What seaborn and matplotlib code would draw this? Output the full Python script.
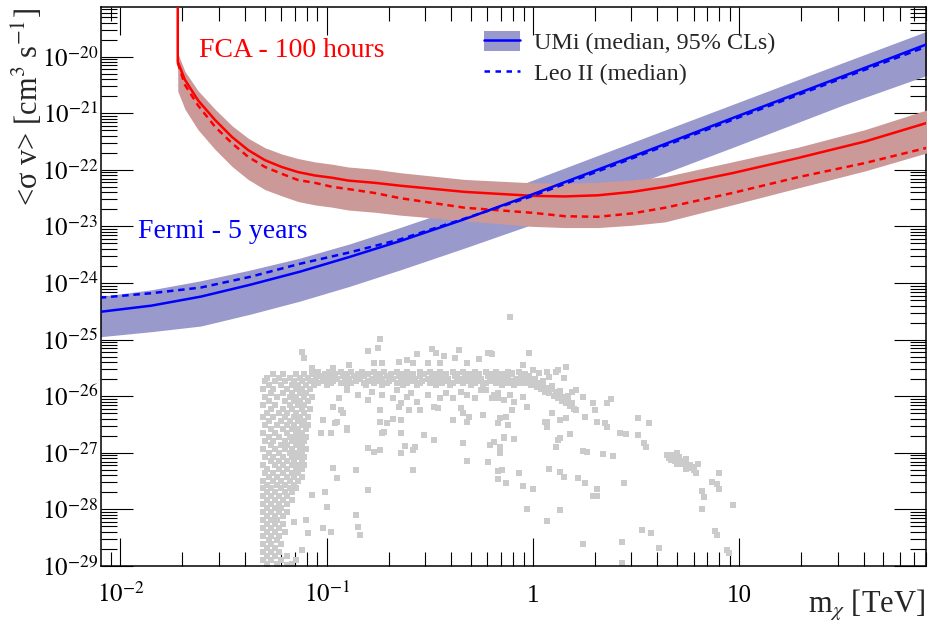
import numpy as np
import pandas as pd
import matplotlib
matplotlib.use("Agg")
import matplotlib.pyplot as plt
import seaborn as sns
from matplotlib.patches import Patch
from matplotlib.lines import Line2D
from matplotlib.legend_handler import HandlerTuple
from matplotlib.ticker import LogLocator, NullFormatter

# ------------------------------------------------------------------ data
# all values are log10(m_chi / TeV) and log10(<sigma v> / cm^3 s^-1)

# Fermi 5 years (UMi median + 95% CL band, Leo II median)
fermi_logm = [-2.10, -1.85, -1.61, -1.37, -1.13, -0.89, -0.645, -0.33, 0.0, 0.5, 1.0, 1.5, 1.91]
umi_fermi_median = [-24.51, -24.40, -24.24, -24.03, -23.80, -23.54, -23.26, -22.87, -22.43,
                    -21.74, -21.04, -20.35, -19.78]
umi_fermi_upper = [-24.24, -24.12, -23.96, -23.77, -23.56, -23.31, -23.02, -22.63, -22.18,
                   -21.49, -20.80, -20.11, -19.55]
umi_fermi_lower = [-24.95, -24.86, -24.76, -24.55, -24.32, -24.06, -23.77, -23.38, -22.96,
                   -22.25, -21.56, -20.86, -20.33]
leo_fermi_median = [-24.26, -24.18, -24.08, -23.89, -23.66, -23.46, -23.23, -22.86, -22.46,
                    -21.77, -21.07, -20.38, -19.82]

# FCA 100 hours (UMi median + 95% CL band, Leo II median)
fca_threshold_logm = -1.722
fca_rise_logsv = -18.5
fca_logm = [-1.722, -1.687, -1.624, -1.541, -1.459, -1.381, -1.299, -1.218, -1.139, -1.057,
            -0.974, -0.895, -0.766, -0.645, -0.33, 0.0, 0.155, 0.315, 0.48, 0.64, 0.965, 1.285,
            1.609, 1.91]
umi_fca_median = [-20.09, -20.41, -20.77, -21.12, -21.42, -21.65, -21.83, -21.95, -22.04, -22.10,
                  -22.14, -22.19, -22.23, -22.28, -22.39, -22.46, -22.47, -22.45, -22.39, -22.30,
                  -22.06, -21.79, -21.50, -21.17]
umi_fca_upper = [-19.94, -20.26, -20.60, -20.93, -21.22, -21.44, -21.61, -21.72, -21.80, -21.86,
                 -21.90, -21.95, -21.99, -22.05, -22.17, -22.23, -22.24, -22.22, -22.18, -22.12,
                 -21.86, -21.60, -21.29, -20.94]
umi_fca_lower = [-20.61, -20.93, -21.29, -21.64, -21.94, -22.17, -22.35, -22.46, -22.56, -22.62,
                 -22.66, -22.71, -22.75, -22.80, -22.90, -23.00, -23.02, -23.02, -22.98, -22.92,
                 -22.62, -22.32, -22.02, -21.70]
leo_fca_median = [-20.11, -20.50, -20.86, -21.24, -21.53, -21.77, -21.95, -22.07, -22.18, -22.23,
                  -22.30, -22.34, -22.41, -22.50, -22.67, -22.76, -22.82, -22.83, -22.77, -22.67,
                  -22.41, -22.13, -21.88, -21.61]

# model scan: vertical branch near 50-80 GeV, rows of (log sv, [log m ...])
scan_branch_rows = [
    (-25.60, [-1.26, -1.21, -1.15, -1.11, -1.07]),
    (-25.67, [-1.29, -1.23, -1.18, -1.13, -1.09, -1.05]),
    (-25.74, [-1.30, -1.25, -1.20, -1.16, -1.12, -1.08]),
    (-25.81, [-1.28, -1.22, -1.17, -1.14, -1.10, -1.06]),
    (-25.88, [-1.31, -1.26, -1.19, -1.15, -1.12, -1.08]),
    (-25.95, [-1.27, -1.21, -1.17, -1.13, -1.10]),
    (-26.02, [-1.30, -1.24, -1.18, -1.15, -1.11, -1.07]),
    (-26.09, [-1.28, -1.20, -1.16, -1.13, -1.09]),
    (-26.16, [-1.31, -1.25, -1.18, -1.14, -1.11]),
    (-26.23, [-1.27, -1.21, -1.17, -1.12, -1.08]),
    (-26.30, [-1.29, -1.23, -1.19, -1.15, -1.11]),
    (-26.37, [-1.31, -1.26, -1.20, -1.16, -1.13, -1.09]),
    (-26.44, [-1.28, -1.22, -1.18, -1.14, -1.11]),
    (-26.51, [-1.30, -1.24, -1.19, -1.16, -1.12, -1.09]),
    (-26.58, [-1.27, -1.21, -1.17, -1.14, -1.10]),
    (-26.65, [-1.31, -1.25, -1.19, -1.15, -1.12]),
    (-26.72, [-1.28, -1.23, -1.18, -1.16, -1.13, -1.10]),
    (-26.79, [-1.30, -1.26, -1.20, -1.17, -1.14, -1.11]),
    (-26.86, [-1.27, -1.22, -1.19, -1.15, -1.12]),
    (-26.93, [-1.31, -1.25, -1.20, -1.17, -1.13, -1.10]),
    (-27.00, [-1.28, -1.23, -1.18, -1.15, -1.12]),
    (-27.07, [-1.30, -1.26, -1.21, -1.17, -1.14, -1.11]),
    (-27.14, [-1.27, -1.23, -1.19, -1.16, -1.12]),
    (-27.21, [-1.31, -1.25, -1.21, -1.17, -1.14, -1.11]),
    (-27.28, [-1.29, -1.23, -1.19, -1.15, -1.12]),
    (-27.35, [-1.30, -1.26, -1.21, -1.17, -1.14]),
    (-27.42, [-1.28, -1.24, -1.19, -1.16, -1.12]),
    (-27.49, [-1.31, -1.26, -1.22, -1.18, -1.14]),
    (-27.56, [-1.29, -1.24, -1.20, -1.16]),
    (-27.63, [-1.31, -1.27, -1.22, -1.18, -1.15]),
    (-27.70, [-1.29, -1.25, -1.20, -1.17]),
    (-27.77, [-1.31, -1.27, -1.23, -1.19]),
    (-27.84, [-1.29, -1.25, -1.21, -1.17]),
    (-27.91, [-1.31, -1.27, -1.23, -1.19]),
    (-27.98, [-1.29, -1.25, -1.22]),
    (-28.05, [-1.31, -1.27, -1.23, -1.19]),
    (-28.12, [-1.29, -1.25, -1.21]),
    (-28.19, [-1.31, -1.27, -1.24]),
    (-28.26, [-1.29, -1.25, -1.21]),
    (-28.33, [-1.31, -1.27, -1.23]),
    (-28.40, [-1.29, -1.25, -1.20]),
    (-28.47, [-1.31, -1.27, -1.23]),
    (-28.54, [-1.28, -1.24]),
    (-28.61, [-1.31, -1.27, -1.22]),
    (-28.68, [-1.29, -1.25]),
    (-28.75, [-1.31, -1.27, -1.23]),
    (-28.82, [-1.29, -1.25, -1.19]),
    (-28.89, [-1.31, -1.27, -1.22]),
    (-28.96, [-1.29, -1.24, -1.17]),
]

# model scan: plateau at ~2e-26 (thermal relic), rows of (log sv, [log m ...])
scan_plateau_rows = [
    (-25.57, [-1.04, -0.99, -0.93, -0.88, -0.83, -0.77, -0.72, -0.66, -0.61, -0.55, -0.50, -0.45,
              -0.39, -0.34, -0.28, -0.23, -0.18, -0.12, -0.07]),
    (-25.61, [-1.06, -1.01, -0.96, -0.90, -0.85, -0.80, -0.74, -0.69, -0.63, -0.58, -0.53, -0.47,
              -0.42, -0.37, -0.31, -0.26, -0.20, -0.15, -0.10, -0.04]),
    (-25.65, [-1.03, -0.98, -0.92, -0.87, -0.82, -0.76, -0.71, -0.65, -0.60, -0.55, -0.49, -0.44,
              -0.38, -0.33, -0.28, -0.22, -0.17, -0.12, -0.06, -0.02]),
    (-25.69, [-1.05, -1.00, -0.95, -0.89, -0.84, -0.78, -0.73, -0.68, -0.62, -0.57, -0.51, -0.46,
              -0.41, -0.35, -0.30, -0.25, -0.19, -0.14, -0.08, -0.03, 0.01]),
    (-25.73, [-1.02, -0.97, -0.91, -0.86, -0.80, -0.75, -0.70, -0.64, -0.59, -0.54, -0.48, -0.43,
              -0.37, -0.32, -0.27, -0.21, -0.16, -0.11, -0.05, 0.00]),
    (-25.77, [-1.04, -0.98, -0.93, -0.88, -0.82, -0.77, -0.71, -0.66, -0.61, -0.55, -0.50, -0.44,
              -0.39, -0.34, -0.28, -0.23, -0.18, -0.12, -0.07, -0.02]),
    (-25.81, [-1.00, -0.90, -0.81, -0.73, -0.63, -0.56, -0.47, -0.40, -0.30, -0.24, -0.15, -0.09]),
]

# model scan: descending streak around 1-1.5 TeV, (log m, log sv)
scan_streak = [
    (-0.06, -25.70), (-0.04, -25.76), (-0.03, -25.68), (-0.01, -25.80), (0.00, -25.73),
    (0.02, -25.84), (0.03, -25.77), (0.04, -25.88), (0.05, -25.80), (0.06, -25.92),
    (0.07, -25.85), (0.08, -25.95), (0.09, -25.88), (0.10, -26.00), (0.11, -25.93),
    (0.12, -26.04), (0.13, -25.97), (0.14, -26.08), (0.15, -26.02), (0.16, -26.12),
    (0.17, -26.06), (0.18, -26.17), (0.19, -26.12), (0.20, -26.22), (0.21, -26.25),
    (0.01, -25.70), (0.05, -25.74), (0.09, -25.82), (0.13, -25.91), (0.17, -26.00),
]

# model scan: compact cluster near 5 TeV, (log m, log sv)
scan_cluster = [
    (0.65, -27.04), (0.66, -27.09), (0.67, -27.06), (0.68, -27.11), (0.69, -27.08),
    (0.69, -27.15), (0.70, -27.12), (0.71, -27.17), (0.72, -27.14), (0.72, -27.20),
    (0.73, -27.18), (0.74, -27.23), (0.75, -27.21), (0.76, -27.27), (0.77, -27.25),
    (0.78, -27.31), (0.79, -27.35), (0.67, -27.13), (0.70, -27.20), (0.74, -27.28),
    (0.76, -27.22), (0.68, -27.03), (0.71, -27.08),
]

# model scan: scattered points, (log m, log sv)
scan_sparse = [
    (-1.12, -25.22), (-1.11, -25.33), (-0.80, -25.20), (-0.74, -24.99), (-0.75, -25.15),
    (-0.56, -25.25), (-0.49, -25.17), (-0.47, -25.24), (-0.43, -25.29), (-0.36, -25.18),
    (-0.26, -25.34), (-0.21, -25.24), (-0.77, -25.41), (-0.73, -25.41), (-0.65, -25.40),
    (-0.61, -25.36), (-0.58, -25.41), (-0.51, -25.41), (-0.45, -25.41), (-0.38, -25.33),
    (-0.32, -25.41), (-0.89, -25.45), (-0.97, -25.50), (-1.07, -25.50), (-0.11, -24.60),
    (-0.22, -25.24), (-0.20, -25.25), (-0.02, -25.24), (-0.05, -25.45), (0.00, -25.54),
    (0.07, -25.57), (0.11, -25.57), (0.12, -25.54), (0.16, -25.48), (0.15, -25.68),
    (-0.10, -25.59), (0.03, -25.59), (0.08, -25.66),
    (-0.90, -25.89), (-0.85, -25.98), (-0.80, -26.07), (-0.78, -25.93), (-0.73, -25.98),
    (-0.68, -26.03), (-0.66, -25.89), (-0.64, -26.12), (-0.61, -26.01), (-0.59, -25.94),
    (-0.56, -26.10), (-0.51, -25.98), (-0.48, -26.19), (-0.45, -26.03), (-0.42, -25.94),
    (-0.39, -26.03), (-0.35, -25.93), (-0.32, -25.98), (-0.28, -26.03), (-0.25, -25.89),
    (-0.20, -26.03), (-0.17, -25.94), (-0.74, -26.24), (-0.65, -26.19), (-0.60, -26.24),
    (-0.55, -26.24), (-0.46, -26.21), (-0.35, -26.21), (-0.34, -26.30), (-0.39, -26.42),
    (-0.31, -26.37), (-0.24, -26.33), (-0.17, -26.47), (-0.94, -26.03), (-0.97, -26.19),
    (-0.93, -26.24), (-1.02, -26.42), (-0.96, -26.47), (-0.90, -26.56), (-0.74, -26.46),
    (-0.71, -26.47), (-0.64, -26.65), (-0.73, -26.65), (-0.98, -26.65), (-1.03, -26.65),
    (-0.90, -26.60), (-0.95, -26.46), (-0.92, -26.30), (-0.72, -26.63), (-0.80, -26.92),
    (-0.77, -26.99), (-0.74, -26.95), (-0.97, -27.27), (-0.95, -27.45), (-0.86, -27.30),
    (-0.80, -27.66), (-1.01, -27.69), (-1.07, -27.75), (-1.00, -27.96), (-0.86, -28.10),
    (-0.85, -28.31), (-0.84, -28.45), (-1.02, -28.33), (-0.98, -28.40), (-1.09, -28.42),
    (-1.10, -28.19), (-1.16, -28.22), (-1.12, -28.72), (-1.15, -28.89), (-1.19, -28.98),
    (-0.58, -27.30), (-0.64, -27.00), (-0.62, -26.88), (-0.57, -26.90), (-0.48, -26.77),
    (-0.53, -26.69), (-0.64, -26.42), (-0.68, -26.40), (-0.39, -26.42), (-0.34, -26.83),
    (-0.58, -26.95), (-0.32, -27.14), (-0.22, -27.16), (-0.21, -26.86), (-0.19, -26.81),
    (-0.16, -26.90), (-0.16, -27.00), (-0.14, -26.74), (-0.09, -26.76), (-0.12, -26.51),
    (-0.17, -27.32), (-0.17, -27.46), (-0.13, -27.53), (-0.07, -27.36), (-0.05, -27.59),
    (0.00, -27.64), (-0.03, -27.99), (0.07, -28.20), (0.13, -28.01), (0.08, -27.29),
    (0.13, -27.34), (0.15, -27.43), (0.11, -26.90), (0.12, -26.77), (0.18, -26.67),
    (0.24, -26.97), (0.26, -26.99), (0.34, -27.02), (0.39, -27.06), (0.22, -27.45),
    (0.25, -27.53), (0.31, -27.64), (0.29, -27.76), (0.31, -27.76), (0.44, -27.53),
    (0.42, -26.65), (0.45, -26.67), (0.51, -26.69), (0.54, -26.83), (0.55, -26.90),
    (0.24, -28.61), (0.43, -28.58), (0.53, -28.36), (0.57, -28.42), (0.61, -28.68),
    (0.43, -28.95), (0.07, -26.46), (-0.32, -26.46), (-0.15, -27.30),
    (-0.23, -25.89), (-0.19, -25.98), (-0.17, -26.03), (-0.14, -26.07), (-0.11, -25.98),
    (-0.09, -26.10), (-0.05, -26.01), (-0.03, -26.19), (-0.10, -26.24), (-0.13, -26.37),
    (-0.16, -26.39), (0.06, -26.46), (0.07, -26.54), (0.09, -26.30), (0.13, -26.42),
    (0.16, -26.39), (0.19, -25.93), (0.21, -25.89), (0.24, -26.01), (0.29, -26.12),
    (0.30, -26.24), (0.25, -26.37), (0.31, -26.46), (0.36, -26.12), (0.38, -26.05),
    (0.35, -26.47), (0.36, -26.54), (0.13, -26.74), (-0.14, -26.72), (0.51, -26.39),
    (0.56, -26.47),
    (0.70, -27.00), (0.74, -27.11), (0.80, -27.20), (0.90, -27.36), (0.87, -27.52),
    (0.89, -27.55), (0.90, -27.64), (0.82, -27.67), (0.83, -27.78), (0.82, -27.99),
    (0.97, -27.92), (0.88, -28.38), (0.89, -28.45), (0.94, -28.72), (0.95, -28.77),
]

xtick_values = [0.01, 0.1, 1, 10]
xtick_labels = [r"$10^{-2}$", r"$10^{-1}$", "1", "10"]
ytick_values = [1e-29, 1e-28, 1e-27, 1e-26, 1e-25, 1e-24, 1e-23, 1e-22, 1e-21, 1e-20]
ytick_labels = [r"$10^{-29}$", r"$10^{-28}$", r"$10^{-27}$", r"$10^{-26}$", r"$10^{-25}$",
                r"$10^{-24}$", r"$10^{-23}$", r"$10^{-22}$", r"$10^{-21}$", r"$10^{-20}$"]
x_range_log = (-2.094, 1.905)
y_range_log = (-29.0, -19.123)

# ------------------------------------------------------------------ tables
pts = [(m, sv) for sv, ms in scan_branch_rows for m in ms]
pts += [(m, sv) for sv, ms in scan_plateau_rows for m in ms]
pts += scan_streak + scan_cluster + scan_sparse
scan_df = pd.DataFrame(pts, columns=["logm", "logsv"])
scan_df["m"] = 10.0 ** scan_df["logm"]
scan_df["sv"] = 10.0 ** scan_df["logsv"]

fm = 10.0 ** np.array(fermi_logm)
cm = 10.0 ** np.array(fca_logm)
fca_line_m = np.concatenate([[10.0 ** fca_threshold_logm], cm])
fca_line_sv = 10.0 ** np.concatenate([[fca_rise_logsv], umi_fca_median])

# ------------------------------------------------------------------ style
sns.set_theme(style="ticks")
plt.rcParams.update({
    "font.family": ["Liberation Serif", "DejaVu Serif"],
    "mathtext.fontset": "stix",
    "axes.linewidth": 1.1,
    "axes.edgecolor": "black",
})

RED = "#ff0000"
BLUE = "#0000ff"
RED_BAND = "#cc9999"
BLUE_BAND = "#9999cc"
GREY = "#cbcbcb"

fig = plt.figure(figsize=(9.3, 6.24), dpi=100)
ax = fig.add_axes([101 / 930, 58 / 624, 825 / 930, 559 / 624])
ax.set_xscale("log")
ax.set_yscale("log")

sns.scatterplot(data=scan_df, x="m", y="sv", marker="s", s=13, color=GREY,
                linewidth=0, ax=ax, zorder=1, legend=False)

ax.fill_between(fm, 10.0 ** np.array(umi_fermi_lower), 10.0 ** np.array(umi_fermi_upper),
                color=BLUE_BAND, lw=0, zorder=2)
ax.fill_between(cm, 10.0 ** np.array(umi_fca_lower), 10.0 ** np.array(umi_fca_upper),
                color=RED_BAND, lw=0, zorder=3)

dash = (0, (2.6, 1.9))
sns.lineplot(x=cm, y=10.0 ** np.array(leo_fca_median), color=RED, lw=1.8, linestyle=dash,
             sort=False, estimator=None, ax=ax, zorder=4)
sns.lineplot(x=fca_line_m, y=fca_line_sv, color=RED, lw=1.8,
             sort=False, estimator=None, ax=ax, zorder=4)
sns.lineplot(x=fm, y=10.0 ** np.array(leo_fermi_median), color=BLUE, lw=1.8, linestyle=dash,
             sort=False, estimator=None, ax=ax, zorder=5)
sns.lineplot(x=fm, y=10.0 ** np.array(umi_fermi_median), color=BLUE, lw=1.8,
             sort=False, estimator=None, ax=ax, zorder=5)

ax.set_xlim(10 ** x_range_log[0], 10 ** x_range_log[1])
ax.set_ylim(10 ** y_range_log[0], 10 ** y_range_log[1])

ax.set_xticks(xtick_values, labels=xtick_labels)
ax.set_yticks(ytick_values, labels=ytick_labels)
ax.xaxis.set_minor_locator(LogLocator(base=10, subs=(2, 3, 4, 5, 6, 7, 8, 9), numticks=50))
ax.yaxis.set_minor_locator(LogLocator(base=10, subs=(2, 3, 4, 5, 6, 7, 8, 9), numticks=50))
ax.xaxis.set_minor_formatter(NullFormatter())
ax.yaxis.set_minor_formatter(NullFormatter())

ax.tick_params(axis="both", which="both", direction="in", top=True, right=True,
               width=0.8, color="black", labelcolor="black")
ax.tick_params(axis="x", which="major", length=20, pad=26, labelsize=18)
ax.tick_params(axis="x", which="minor", length=10)
ax.tick_params(axis="y", which="major", length=23, pad=2, labelsize=18)
ax.tick_params(axis="y", which="minor", length=11.5)
for lbl in ax.get_xticklabels():
    lbl.set_verticalalignment("baseline")
ax.set_xlabel("")
ax.set_ylabel("")
for s in ax.spines.values():
    s.set_visible(True)
    s.set_linewidth(1.1)

# annotations
ax.text(10 ** -1.619, 1e-20, "FCA - 100 hours", color=RED, fontsize=20, va="baseline", ha="left")
ax.text(10 ** -1.915, 10 ** -23.205, "Fermi - 5 years", color=BLUE, fontsize=20,
        va="baseline", ha="left")

fig.text(28 / 930, 1 - 8 / 624, "<σ v> [cm$^{3}$ s$^{-1}$]", rotation=90,
         ha="center", va="top", fontsize=22)
fig.text(925 / 930, 1 - 613 / 624, r"m$_{\chi}$ [TeV]", ha="right", va="baseline", fontsize=22)

handles = [
    (Patch(facecolor=BLUE_BAND, edgecolor="none"), Line2D([], [], color=BLUE, lw=1.8)),
    Line2D([], [], color=BLUE, lw=1.8, linestyle=(0, (2.2, 2.2))),
]
labels = ["UMi (median, 95% CLs)", "Leo II (median)"]
ax.legend(handles, labels, handler_map={tuple: HandlerTuple(ndivide=1, pad=0)},
          loc="upper left", bbox_to_anchor=((484 - 101) / 825, (566 - 31) / 559),
          frameon=False, fontsize=17.4, handlelength=1.5, handleheight=0.92,
          handletextpad=0.55, labelspacing=0.28, borderpad=0, borderaxespad=0)

fig.savefig("out.png", dpi=100)
